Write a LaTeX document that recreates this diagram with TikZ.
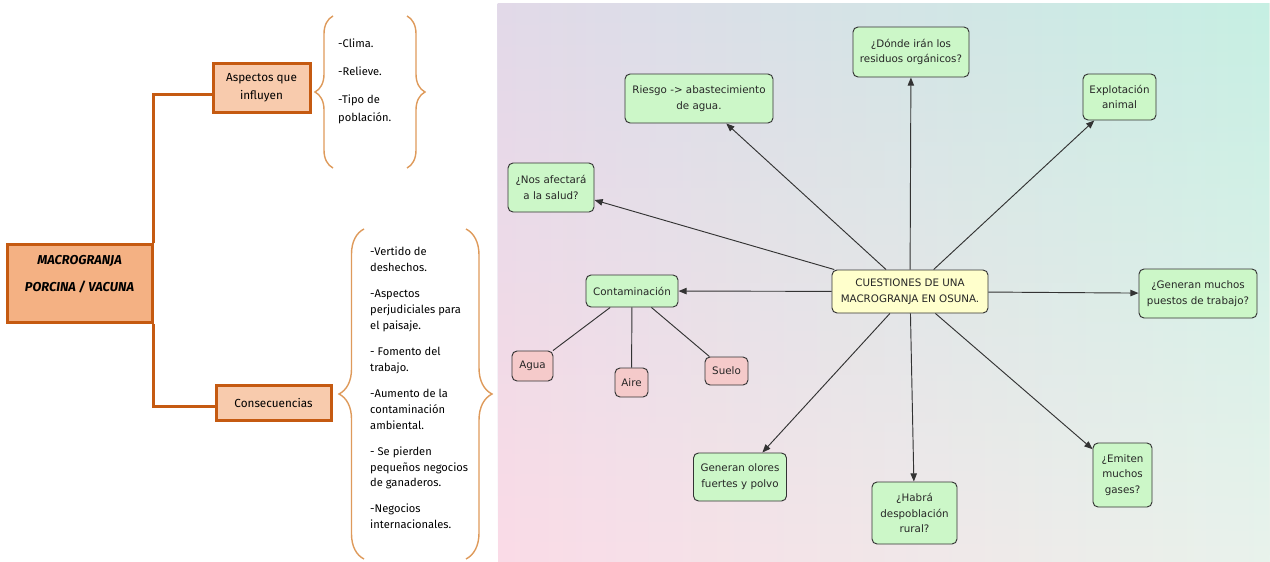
\documentclass[tikz,border=0pt]{standalone}
\usepackage{fontspec}
\setmainfont{DejaVu Sans}
\newfontfamily\handfont{Fira Sans}
\usepackage{tikz}
\usetikzlibrary{arrows.meta,positioning,decorations.pathreplacing,fadings}
\definecolor{MapOrange}{HTML}{C55A11}
\definecolor{MapPeach}{HTML}{F4B183}
\definecolor{MapPeachLt}{HTML}{F8CBAD}
\definecolor{BraceOrange}{HTML}{DE9A5B}
\definecolor{NodeGreen}{HTML}{CCF7C8}
\definecolor{NodePink}{HTML}{F5CACA}
\definecolor{NodeYellow}{HTML}{FFFFCC}
\definecolor{EdgeGray}{HTML}{333333}
\definecolor{BgTL}{HTML}{E2D9E9}
\definecolor{BgTR}{HTML}{C6EFE3}
\definecolor{BgBL}{HTML}{FBDCE7}
\definecolor{BgBR}{HTML}{E9F3EC}
\tikzset{
  sz/.style 2 args={minimum width=#1*0.03cm,minimum height=#2*0.03cm},
  OB/.style={rectangle,draw=MapOrange,line width=0.09cm,inner sep=1pt,
             align=center,text=black},
  mainB/.style={OB,fill=MapPeach,
                font=\handfont\fontsize{11}{13}\selectfont\bfseries\itshape},
  subB/.style={OB,fill=MapPeachLt,font=\handfont\fontsize{10}{15.5}\selectfont},
  conn/.style={MapOrange,line width=0.09cm},
  brc/.style={BraceOrange,line width=1.2pt,decorate,
              decoration={brace,amplitude=#1}},
  lst/.style={anchor=north west,inner sep=0pt,align=left,
              font=\handfont\fontsize{9.5}{13.6}\selectfont},
  CM/.style={rectangle,rounded corners=0.15cm,draw=EdgeGray,line width=0.8pt,
             inner sep=1pt,align=center,text=black!85,
             font=\fontsize{8.8}{13.5}\selectfont},
  cG/.style={CM,fill=NodeGreen},
  cP/.style={CM,fill=NodePink},
  cY/.style={CM,fill=NodeYellow},
  arr/.style={-{Triangle[length=7pt,width=5.5pt]},EdgeGray,line width=0.8pt},
  lnk/.style={EdgeGray,line width=0.8pt}
}

\begin{document}
\begin{tikzpicture}[x=0.03cm,y=-0.03cm]
  \useasboundingbox (0,0) rectangle (1270,561);

  % left side: orange outline
  \node[mainB,sz={145}{78}] (mg) at (79.5,283.5) {MACROGRANJA\\[10pt]PORCINA / VACUNA\\[4pt]\mbox{}};
  \node[subB,sz={97}{49}] (asp) at (261.5,87.5) {Aspectos que\\influyen};
  \node[subB,sz={115}{35}] (cons) at (273.5,402.5) {Consecuencias};

  \draw[conn]([yshift=-0.21cm]asp.west)-|(mg.north east);
  \draw[conn]([yshift=-0.12cm]cons.west)-|(mg.south east);

  \draw[brc=0.54cm](333,168)--(333,16);
  \draw[brc=0.54cm](407,16)--(407,168);
  \draw[brc=0.75cm](364,559)--(364,229);
  \draw[brc=0.78cm](466,229)--(466,559);

  \node[lst,font=\handfont\fontsize{9.5}{15.4}\selectfont] (asplist) at (338,39)
    {-Clima.\\[8.5pt]-Relieve.\\[8.5pt]-Tipo de\\población.};
  \node[lst] (conslist) at (370,247)
    {-Vertido de\\deshechos.\\[8.5pt]-Aspectos\\perjudiciales para\\el paisaje.\\[8.5pt]%
     - Fomento del\\trabajo.\\[8.5pt]-Aumento de la\\contaminación\\ambiental.\\[8.5pt]%
     - Se pierden\\pequeños negocios\\de ganaderos.\\[8.5pt]-Negocios\\internacionales.};

  % right side: concept map
  \fill[left color=BgBL,right color=BgBR](498,3)rectangle(1270,561);
  \path[left color=BgTL,right color=BgTR,path fading=south](498,3)rectangle(1270,561);

  \node[cY,sz={156}{43}] (cq) at (910,291.5) {CUESTIONES DE UNA\\MACROGRANJA EN OSUNA.};
  \node[cG,sz={116}{50}] (donde) at (911,52) {¿Dónde irán los\\residuos orgánicos?};
  \node[cG,sz={148}{49}] (riesgo) at (699,98.5) {Riesgo -> abastecimiento\\de agua.};
  \node[cG,sz={73}{46}] (explot) at (1119.5,97) {Explotación\\animal};
  \node[cG,sz={86}{49}] (salud) at (551,187.5) {¿Nos afectará\\a la salud?};
  \node[cG,sz={92}{32}] (contam) at (632,291) {Contaminación};
  \node[cG,sz={118}{49}] (trabajo) at (1198,293.5) {¿Generan muchos\\puestos de trabajo?};
  \node[cG,sz={93}{48}] (olores) at (740,477) {Generan olores\\fuertes y polvo};
  \node[cG,sz={85}{62}] (habra) at (914.5,513) {¿Habrá\\despoblación\\rural?};
  \node[cG,sz={59}{64}] (emiten) at (1122.5,475) {¿Emiten\\muchos\\gases?};
  \node[cP,sz={41}{30}] (agua) at (532.5,366) {Agua};
  \node[cP,sz={33}{29}] (aire) at (631.5,382.5) {Aire};
  \node[cP,sz={43}{28}] (suelo) at (726.5,371) {Suelo};

  \foreach \n in {donde,riesgo,explot,salud,contam,trabajo,olores,habra,emiten}
    \draw[arr](cq)--(\n);
  \foreach \n in {agua,aire,suelo}
    \draw[lnk](contam)--(\n);
\end{tikzpicture}
\end{document}
